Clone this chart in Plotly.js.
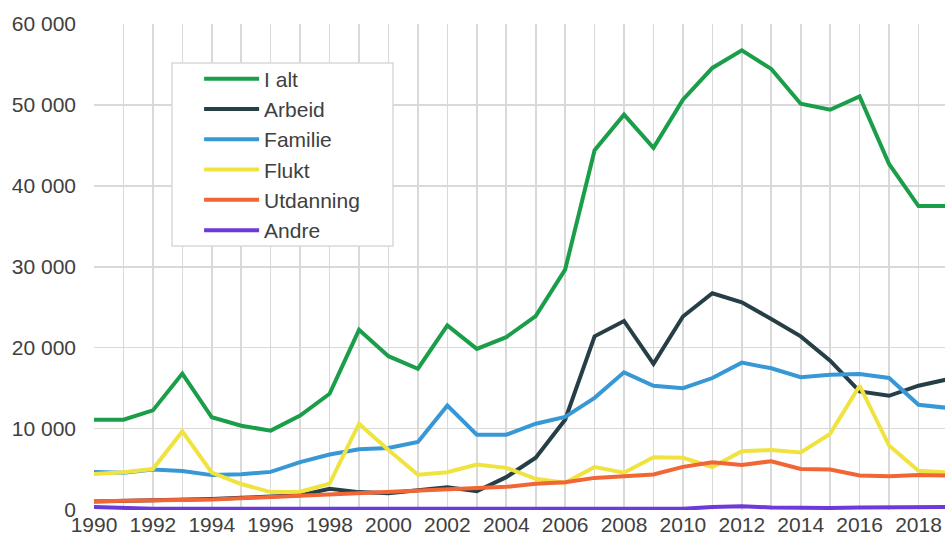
<!DOCTYPE html>
<html>
<head>
<meta charset="utf-8">
<script src="https://cdn.plot.ly/plotly-3.0.1.min.js"></script>
<style>
html, body { margin: 0; padding: 0; background: #ffffff; overflow: hidden; }
#chart { width: 945px; height: 536px; }
</style>
</head>
<body>
<div id="chart"></div>
<script>
const years = [1990,1991,1992,1993,1994,1995,1996,1997,1998,1999,2000,2001,2002,2003,2004,2005,2006,2007,2008,2009,2010,2011,2012,2013,2014,2015,2016,2017,2018,2019];

const iAlt =      [11100,11100,12250,16800,11400,10350,9750,11600,14300,22200,18950,17400,22750,19850,21300,23900,29650,44400,48800,44700,50650,54570,56750,54450,50150,49400,51050,42700,37500,37500];
const arbeid =    [1000,1050,1150,1200,1300,1450,1600,1750,2550,2150,2000,2400,2750,2250,4000,6400,11100,21400,23300,18000,23850,26720,25600,23550,21400,18400,14600,14050,15300,16100];
const familie =   [4650,4550,4950,4750,4250,4350,4650,5850,6800,7450,7600,8350,12850,9250,9250,10600,11450,13800,16950,15300,15000,16250,18150,17450,16350,16650,16750,16250,12950,12550];
const flukt =     [4400,4600,5000,9650,4550,3150,2150,2200,3200,10600,7350,4300,4600,5550,5150,3800,3300,5250,4550,6450,6400,5250,7200,7350,7050,9350,15300,7900,4800,4600];
const utdanning = [1030,1070,1190,1190,1230,1400,1560,1650,1930,2060,2180,2300,2550,2630,2800,3170,3380,3910,4120,4320,5270,5840,5510,5970,5020,4940,4200,4120,4280,4200];
const andre =     [300,150,100,100,100,100,100,100,100,100,100,100,100,100,100,100,100,100,100,100,100,300,400,250,200,200,250,300,350,300];

const seriesNames = ["I alt","Arbeid","Familie","Flukt","Utdanning","Andre"];
const seriesColors = ["#1a9e4a","#263f47","#3898d6","#f0e340","#f26535","#6c3ad6"];
const seriesValues = [iAlt, arbeid, familie, flukt, utdanning, andre];

const yTickVals = [0,10000,20000,30000,40000,50000,60000];
const yTickLabels = ["0","10 000","20 000","30 000","40 000","50 000","60 000"];
const xTickVals = [1990,1992,1994,1996,1998,2000,2002,2004,2006,2008,2010,2012,2014,2016,2018];
const xTickLabels = ["1990","1992","1994","1996","1998","2000","2002","2004","2006","2008","2010","2012","2014","2016","2018"];

const traces = seriesNames.map((name, i) => ({
  type: "scatter",
  mode: "lines",
  name: name,
  x: years,
  y: seriesValues[i],
  line: { color: seriesColors[i], width: 4 },
  hoverinfo: "x+y+name"
}));

const layout = {
  width: 945,
  height: 536,
  margin: { l: 94, r: 0, t: 24, b: 26, pad: 0 },
  paper_bgcolor: "#ffffff",
  plot_bgcolor: "#ffffff",
  font: { family: "'Liberation Sans', Arial, sans-serif", size: 21, color: "#404040" },
  showlegend: true,
  legend: {
    x: 0.1235, y: 0.929, xanchor: "left", yanchor: "top",
    bgcolor: "rgba(0,0,0,0)", borderwidth: 0,
    font: { size: 21, color: "#404040" },
    traceorder: "normal",
    itemwidth: 55
  },
  shapes: [{
    type: "rect", xref: "paper", yref: "paper",
    x0: 0.0917, x1: 0.3513, y0: 0.5432, y1: 0.9198,
    fillcolor: "#ffffff", line: { color: "#d9d9d9", width: 1.5 },
    layer: "above"
  }],
  xaxis: {
    range: [1990, 2018.9],
    tickmode: "array",
    tickvals: xTickVals,
    ticktext: xTickLabels,
    showgrid: true,
    gridcolor: "#d9d9d9",
    gridwidth: 1.6,
    minor: { dtick: 1, tick0: 1990, showgrid: true, gridcolor: "#d9d9d9", gridwidth: 1.6 },
    zeroline: false,
    showline: false,
    ticks: "",
    tickfont: { size: 21, color: "#404040" },
    ticklabelstandoff: 0
  },
  yaxis: {
    range: [-60, 60000],
    tickmode: "array",
    tickvals: yTickVals,
    ticktext: yTickLabels,
    showgrid: true,
    gridcolor: "#d9d9d9",
    gridwidth: 1.6,
    zeroline: false,
    showline: false,
    ticks: "",
    tickfont: { size: 21, color: "#404040" },
    ticklabelstandoff: 17
  }
};

Plotly.newPlot("chart", traces, layout, { displayModeBar: false, staticPlot: true });
</script>
</body>
</html>
